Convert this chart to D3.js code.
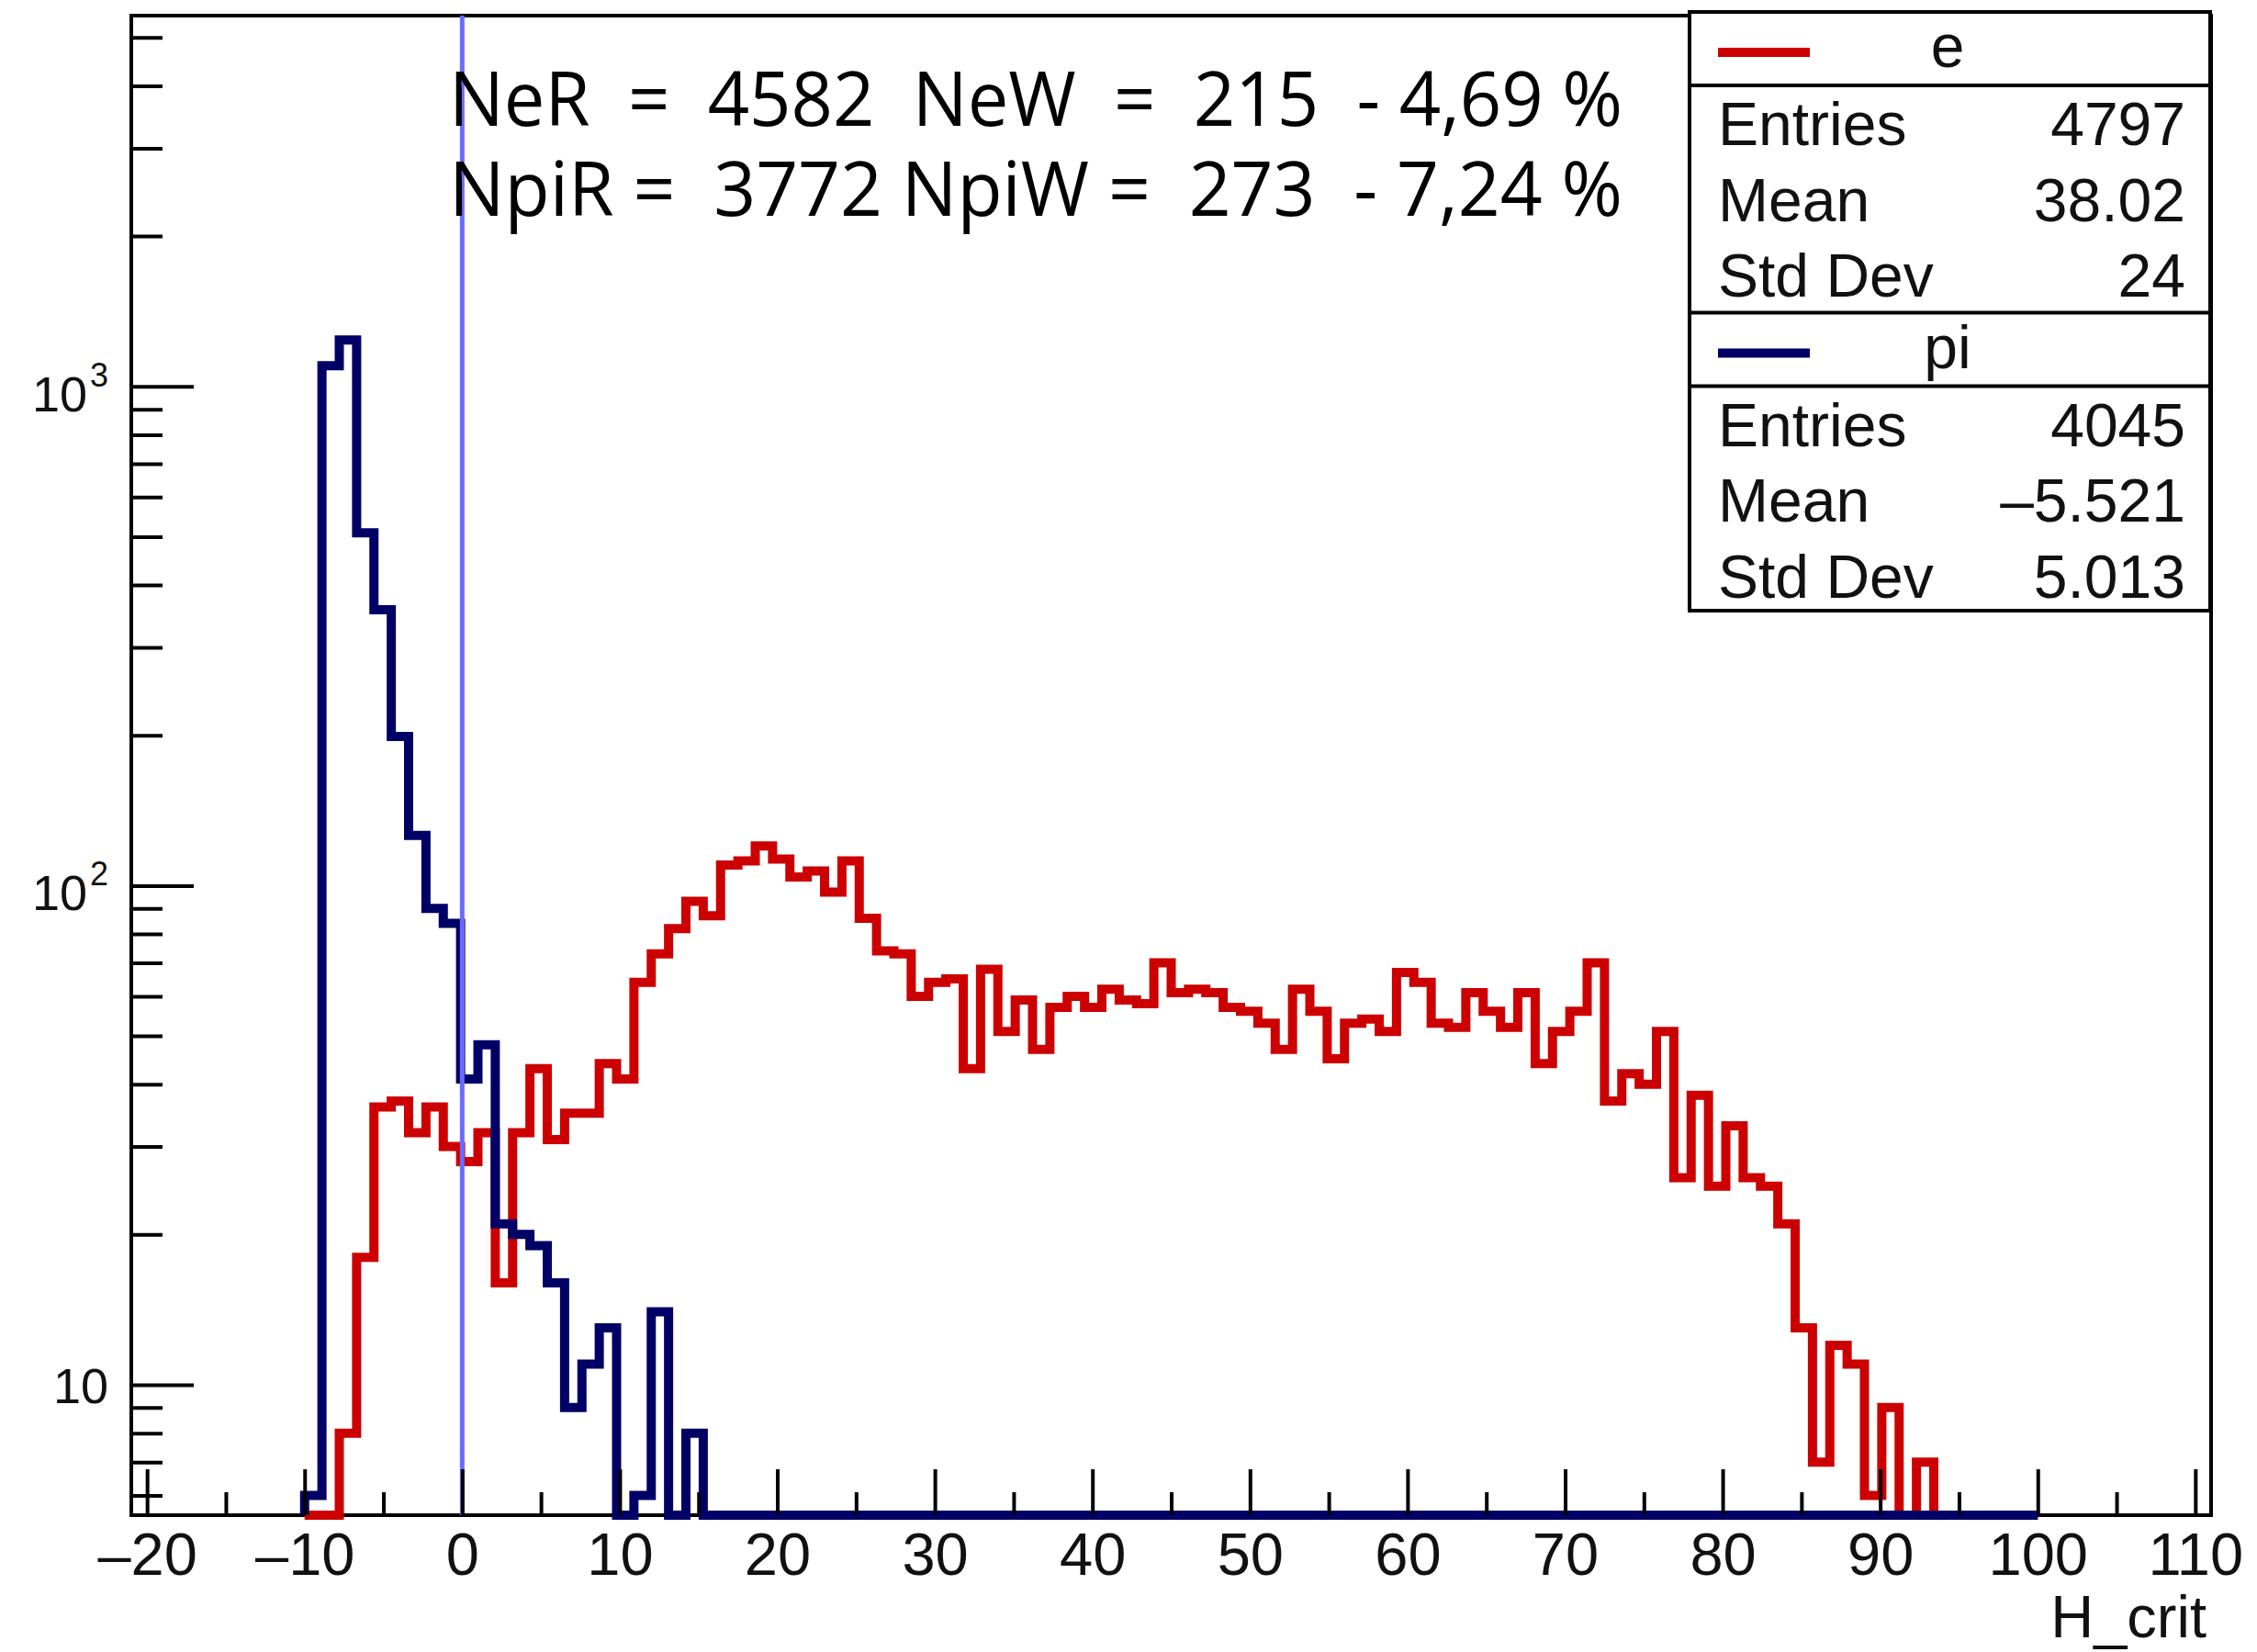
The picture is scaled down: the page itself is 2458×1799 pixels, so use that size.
<!DOCTYPE html>
<meta charset="utf-8">
<body style="margin:0;background:#fff">

<script src="https://d3js.org/d3.v7.min.js"></script>
<script>
// histogram binning: 100 bins of 1.1 from -10 to 100
var binLow = -10, binWidth = 1.1;

// e counts per bin
var eCounts = [0, 0, 8, 18, 36, 37, 32, 36, 30, 28,
  32, 16, 32, 43, 31, 35, 35, 44, 41, 64,
  73, 82, 93, 87, 110, 112, 120, 113, 104, 107,
  97, 112, 86, 74, 73, 60, 64, 65, 43, 68,
  51, 59, 47, 57, 60, 57, 62, 59, 58, 70,
  61, 62, 61, 57, 56, 53, 47, 62, 56, 45,
  53, 54, 51, 67, 64, 53, 52, 61, 56, 52,
  61, 44, 51, 56, 70, 37, 42, 40, 51, 26,
  38, 25, 33, 26, 25, 21, 13, 7, 12, 11,
  6, 9, 0, 7, 0, 0, 0, 0, 0, 0];

// pi counts per bin
var piCounts = [6, 1100, 1238, 509, 357, 199, 126, 90, 84, 41,
  48, 21, 20, 19, 16, 9, 11, 13, 0, 6,
  14, 0, 8, 0, 0, 0, 0, 0, 0, 0,
  0, 0, 0, 0, 0, 0, 0, 0, 0, 0,
  0, 0, 0, 0, 0, 0, 0, 0, 0, 0,
  0, 0, 0, 0, 0, 0, 0, 0, 0, 0,
  0, 0, 0, 0, 0, 0, 0, 0, 0, 0,
  0, 0, 0, 0, 0, 0, 0, 0, 0, 0,
  0, 0, 0, 0, 0, 0, 0, 0, 0, 0,
  0, 0, 0, 0, 0, 0, 0, 0, 0, 0];

var xMajorTicks = [-20, -10, 0, 10, 20, 30, 40, 50, 60, 70, 80, 90, 100, 110];
var xMinorTicks = [-15, -5, 5, 15, 25, 35, 45, 55, 65, 75, 85, 95, 105];
var yMajorTicks = [10, 100, 1000];
var yMinorTicks = [6, 7, 8, 9, 20, 30, 40, 50, 60, 70, 80, 90,
  200, 300, 400, 500, 600, 700, 800, 900, 2000, 3000, 4000, 5000];

var statsE = [["Entries", "4797"], ["Mean", "38.02"], ["Std Dev", "24"]];
var statsPi = [["Entries", "4045"], ["Mean", "\u20135.521"], ["Std Dev", "5.013"]];

var textLines = ["NeR  =  4582  NeW  =  215  - 4,69 %",
                 "NpiR =  3772 NpiW =  273  - 7,24 %"];

// set the dimensions and margins of the frame
var svgW = 2458, svgH = 1799;
var margin = {top: 17, right: 50, bottom: 149, left: 143},
  width = svgW - margin.left - margin.right,
  height = svgH - margin.top - margin.bottom;

var font = "'Liberation Sans', Arial, Helvetica, sans-serif";

var svg = d3.select("body").append("svg")
    .attr("width", svgW)
    .attr("height", svgH)
    .style("display", "block");

svg.append("rect").attr("width", svgW).attr("height", svgH).attr("fill", "#fff");

var g = svg.append("g")
    .attr("transform", "translate(" + margin.left + "," + margin.top + ")");

var x = d3.scaleLinear().domain([-21, 111]).range([0, width]);
var y = d3.scaleLog().domain([5.48, 5530]).range([height, 0]);
var ymin = y.domain()[0];

// frame
g.append("rect")
    .attr("width", width).attr("height", height)
    .attr("fill", "none").attr("stroke", "#000").attr("stroke-width", 4);

// build the step outline of a histogram
function histPoints(counts) {
  var pts = [[binLow, ymin]];
  counts.forEach(function(c, i) {
    var v = Math.max(c, ymin);
    pts.push([binLow + i * binWidth, v]);
    pts.push([binLow + (i + 1) * binWidth, v]);
  });
  pts.push([binLow + counts.length * binWidth, ymin]);
  return pts;
}

var line = d3.line()
    .x(function(d) { return x(d[0]); })
    .y(function(d) { return y(d[1]); });

g.append("path")
    .attr("d", line(histPoints(eCounts)))
    .attr("fill", "none").attr("stroke", "#cc0000")
    .attr("stroke-width", 10).attr("stroke-linejoin", "miter");

g.append("path")
    .attr("d", line(histPoints(piCounts)))
    .attr("fill", "none").attr("stroke", "#000066")
    .attr("stroke-width", 10).attr("stroke-linejoin", "miter");

// cut line at 0
g.append("line")
    .attr("x1", x(0)).attr("x2", x(0))
    .attr("y1", 0).attr("y2", height)
    .attr("stroke", "#6b6bff").attr("stroke-width", 5);

// x axis
function styleAxis(sel) {
  sel.select(".domain").remove();
  sel.selectAll("line").attr("stroke", "#000").attr("stroke-width", 4);
  sel.selectAll("text").attr("font-family", font).attr("font-size", 65).attr("fill", "#111");
}

g.append("g")
    .attr("transform", "translate(0," + height + ")")
    .call(d3.axisBottom(x).tickValues(xMajorTicks).tickSize(-50).tickPadding(19)
      .tickFormat(function(d) { return d < 0 ? "\u2013" + (-d) : d; }))
    .call(styleAxis);

g.append("g")
    .attr("transform", "translate(0," + height + ")")
    .call(d3.axisBottom(x).tickValues(xMinorTicks).tickSize(-25).tickFormat(""))
    .call(styleAxis);

// y axis
g.append("g")
    .call(d3.axisLeft(y).tickValues(yMajorTicks).tickSize(-68).tickFormat(""))
    .call(styleAxis);

g.append("g")
    .call(d3.axisLeft(y).tickValues(yMinorTicks).tickSize(-34).tickFormat(""))
    .call(styleAxis);

// y labels: 10, 10^2, 10^3
yMajorTicks.forEach(function(v) {
  var p = Math.round(Math.log10(v));
  var t = g.append("text")
      .attr("x", -25)
      .attr("y", y(v) + (p === 1 ? 20 : 27))
      .attr("text-anchor", "end")
      .attr("font-family", font)
      .attr("fill", "#111");
  t.append("tspan").attr("font-size", 54).text("10");
  if (p > 1) {
    t.append("tspan").attr("font-size", 36).attr("dy", -27).attr("dx", 3).text(p);
  }
});

// x title
svg.append("text")
    .attr("x", 2403).attr("y", 1783)
    .attr("text-anchor", "end")
    .attr("font-family", font).attr("font-size", 65).attr("fill", "#111")
    .text("H_crit");

// counts text
textLines.forEach(function(s, i) {
  svg.append("text")
      .attr("x", 489).attr("y", 137 + i * 98)
      .attr("font-family", "'Open Sans', sans-serif")
      .attr("font-size", 83)
      .attr("fill", "#000")
      .attr("textLength", 1278)
      .attr("lengthAdjust", "spacingAndGlyphs")
      .style("white-space", "pre")
      .text(s);
});

// stats box
var box = {x: 1840, y: 13, w: 567, h: 652};
var stats = svg.append("g");
stats.append("rect")
    .attr("x", box.x).attr("y", box.y).attr("width", box.w).attr("height", box.h)
    .attr("fill", "#fff").attr("stroke", "#000").attr("stroke-width", 4);

var headH = 80, rowH = 82.5;
[{name: "e", color: "#cc0000", rows: statsE}, {name: "pi", color: "#000066", rows: statsPi}]
  .forEach(function(s, k) {
    var top = box.y + k * (headH + 3 * rowH);
    if (k > 0) {
      stats.append("line")
          .attr("x1", box.x).attr("x2", box.x + box.w)
          .attr("y1", top).attr("y2", top)
          .attr("stroke", "#000").attr("stroke-width", 4);
    }
    stats.append("line")
        .attr("x1", box.x + 31).attr("x2", box.x + 131)
        .attr("y1", top + 44).attr("y2", top + 44)
        .attr("stroke", s.color).attr("stroke-width", 10);
    stats.append("text")
        .attr("x", 2121).attr("y", top + 60)
        .attr("text-anchor", "middle")
        .attr("font-family", font).attr("font-size", 66).attr("fill", "#111")
        .text(s.name);
    stats.append("line")
        .attr("x1", box.x).attr("x2", box.x + box.w)
        .attr("y1", top + headH).attr("y2", top + headH)
        .attr("stroke", "#000").attr("stroke-width", 4);
    s.rows.forEach(function(r, j) {
      var by = top + headH + 65 + j * rowH;
      stats.append("text")
          .attr("x", box.x + 31).attr("y", by)
          .attr("font-family", font).attr("font-size", 66).attr("fill", "#111")
          .text(r[0]);
      stats.append("text")
          .attr("x", box.x + 540).attr("y", by)
          .attr("text-anchor", "end")
          .attr("font-family", font).attr("font-size", 66).attr("fill", "#111")
          .text(r[1]);
    });
  });
</script>
</body>
